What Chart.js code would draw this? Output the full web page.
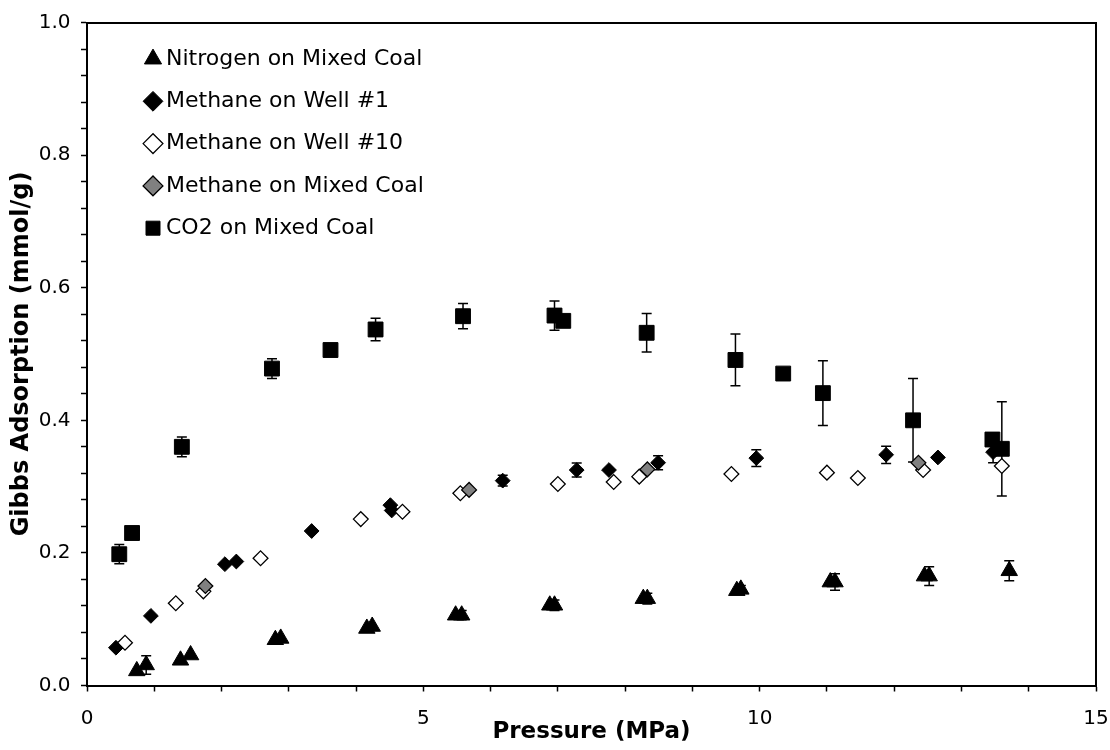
<!DOCTYPE html>
<html>
<head>
<meta charset="utf-8">
<script src="https://cdn.jsdelivr.net/npm/chart.js@4.4.1/dist/chart.umd.min.js"></script>
<style>
  html, body { margin: 0; padding: 0; background: #ffffff; }
  canvas { display: block; }
</style>
</head>
<body>
<canvas id="chart" width="1110" height="750"></canvas>
<script>
// ---------- Data ----------
const seriesNames = [
  'Nitrogen on Mixed Coal',
  'Methane on Well #1',
  'Methane on Well #10',
  'Methane on Mixed Coal',
  'CO2 on Mixed Coal'
];

// Nitrogen on Mixed Coal
const n2Pressure   = [0.74, 0.88, 1.39, 1.54, 2.80, 2.88, 4.16, 4.24, 5.48, 5.57, 6.88, 6.95, 8.27, 8.33, 9.66, 9.72, 11.05, 11.12, 12.45, 12.52, 13.71];
const n2Adsorption = [0.022, 0.031, 0.038, 0.046, 0.069, 0.071, 0.086, 0.089, 0.106, 0.106, 0.121, 0.121, 0.131, 0.131, 0.143, 0.145, 0.156, 0.156, 0.165, 0.165, 0.173];
const n2Error      = [0, 0.014, 0, 0, 0, 0, 0, 0, 0, 0.007, 0, 0.008, 0, 0.008, 0, 0.006, 0, 0.0125, 0, 0.014, 0.015];

// Methane on Well #1
const well1Pressure   = [0.43, 0.95, 2.05, 2.22, 3.34, 4.51, 4.53, 6.18, 7.28, 7.76, 8.49, 9.95, 11.88, 12.65, 13.47];
const well1Adsorption = [0.057, 0.105, 0.183, 0.187, 0.233, 0.272, 0.264, 0.309, 0.325, 0.325, 0.336, 0.343, 0.348, 0.344, 0.352];
const well1Error      = [0, 0, 0, 0, 0, 0, 0, 0.008, 0.0105, 0, 0.0105, 0.0125, 0.013, 0, 0.016];

// Methane on Well #10
const well10Pressure   = [0.565, 1.32, 1.73, 2.58, 4.07, 4.69, 5.55, 7.00, 7.83, 8.21, 9.58, 11.00, 11.46, 12.43, 13.60];
const well10Adsorption = [0.0645, 0.124, 0.142, 0.192, 0.251, 0.262, 0.290, 0.304, 0.307, 0.315, 0.319, 0.321, 0.313, 0.325, 0.331];

// Methane on Mixed Coal
const ch4MixPressure   = [1.76, 5.68, 8.33, 12.36];
const ch4MixAdsorption = [0.150, 0.295, 0.326, 0.336];

// CO2 on Mixed Coal
const co2Pressure   = [0.48, 0.67, 1.41, 2.75, 3.62, 4.29, 5.59, 6.95, 7.08, 8.32, 9.64, 10.35, 10.94, 12.28, 13.46, 13.60];
const co2Adsorption = [0.198, 0.230, 0.360, 0.478, 0.506, 0.537, 0.557, 0.558, 0.550, 0.532, 0.491, 0.4705, 0.441, 0.400, 0.371, 0.357];
const co2Error      = [0.0145, 0, 0.015, 0.015, 0, 0.017, 0.019, 0.022, 0, 0.029, 0.039, 0, 0.049, 0.063, 0, 0.071];

// Axis ranges and tick labels
const xRange = [0, 15];
const yRange = [0, 1];
const xTickLabels = ['0', '5', '10', '15'];
const yTickLabels = ['0.0', '0.2', '0.4', '0.6', '0.8', '1.0'];
const xTitle = 'Pressure (MPa)';
const yTitle = 'Gibbs Adsorption (mmol/g)';

// ---------- Helpers ----------
function toPoints(xs, ys) { return xs.map((x, i) => ({ x: x, y: ys[i] })); }

const FONT = 'DejaVu Sans';

// Error bar plugin (draws through the chart scales)
const errorBarPlugin = {
  id: 'errorBars',
  beforeDatasetsDraw(chart) {
    const ctx = chart.ctx;
    const xs = chart.scales.x, ys = chart.scales.y;
    ctx.save();
    ctx.strokeStyle = '#000000';
    ctx.lineWidth = 1.5;
    chart.data.datasets.forEach((ds) => {
      if (!ds.errorBars) return;
      ds.data.forEach((p, j) => {
        const e = ds.errorBars[j];
        if (!e) return;
        const px = xs.getPixelForValue(p.x);
        const top = ys.getPixelForValue(p.y + e);
        const bot = ys.getPixelForValue(p.y - e);
        ctx.beginPath();
        ctx.moveTo(px, top); ctx.lineTo(px, bot);
        ctx.moveTo(px - 5, top); ctx.lineTo(px + 5, top);
        ctx.moveTo(px - 5, bot); ctx.lineTo(px + 5, bot);
        ctx.stroke();
      });
    });
    ctx.restore();
  }
};

// Place the legend block inside the plot like the reference
const legendPlacePlugin = {
  id: 'legendPlace',
  afterLayout(chart) {
    const lg = chart.legend;
    if (!lg) return;
    lg.left += 43.7; lg.right += 43.7;
    lg.top += 27.7; lg.bottom += 27.7;
  }
};

const tickFont = { family: FONT, size: 20 };

const chart = new Chart(document.getElementById('chart'), {
  type: 'scatter',
  data: {
    datasets: [
      {
        label: seriesNames[0], data: toPoints(n2Pressure, n2Adsorption), errorBars: n2Error,
        pointStyle: 'triangle', pointRadius: 9.5, pointHoverRadius: 9.5,
        backgroundColor: '#000000', borderColor: '#000000', borderWidth: 1, order: 5
      },
      {
        label: seriesNames[1], data: toPoints(well1Pressure, well1Adsorption), errorBars: well1Error,
        pointStyle: 'rectRot', pointRadius: 7.4, pointHoverRadius: 7.4,
        backgroundColor: '#000000', borderColor: '#000000', borderWidth: 1, order: 4
      },
      {
        label: seriesNames[2], data: toPoints(well10Pressure, well10Adsorption),
        pointStyle: 'rectRot', pointRadius: 7.4, pointHoverRadius: 7.4,
        backgroundColor: '#ffffff', borderColor: '#000000', borderWidth: 1.3, order: 3
      },
      {
        label: seriesNames[3], data: toPoints(ch4MixPressure, ch4MixAdsorption),
        pointStyle: 'rectRot', pointRadius: 7.4, pointHoverRadius: 7.4,
        backgroundColor: '#808080', borderColor: '#000000', borderWidth: 1.3, order: 2
      },
      {
        label: seriesNames[4], data: toPoints(co2Pressure, co2Adsorption), errorBars: co2Error,
        pointStyle: 'rect', pointRadius: 10.5, pointHoverRadius: 10.5,
        backgroundColor: '#000000', borderColor: '#000000', borderWidth: 1, order: 1
      }
    ]
  },
  options: {
    responsive: false,
    animation: false,
    devicePixelRatio: 1,
    layout: { padding: { top: 22, right: 14, left: 0, bottom: 0 } },
    plugins: {
      tooltip: { enabled: false },
      legend: {
        display: true,
        position: 'chartArea',
        align: 'start',
        labels: {
          usePointStyle: true,
          boxWidth: 4,
          boxHeight: 14,
          padding: 20.3,
          color: '#000000',
          font: { family: FONT, size: 22 },
          sort: (a, b) => a.datasetIndex - b.datasetIndex
        }
      }
    },
    scales: {
      x: {
        type: 'linear', position: 'bottom',
        min: xRange[0], max: xRange[1],
        afterFit(scale) { scale.height = 64.5; scale.paddingRight = 0; scale.paddingLeft = 0; },
        border: { display: true, color: '#000000', width: 2 },
        grid: { drawOnChartArea: false, drawTicks: true, tickLength: 6, color: '#000000', tickColor: '#000000', tickWidth: 1.5 },
        ticks: {
          stepSize: 1, autoSkip: false, maxRotation: 0, padding: 15.5,
          color: '#000000', font: tickFont,
          callback: (v) => {
            const i = xTickLabels.indexOf(String(Math.round(v)));
            return (Math.abs(v - Math.round(v)) < 1e-9 && i >= 0) ? xTickLabels[i] : '';
          }
        },
        title: {
          display: true, text: xTitle, color: '#000000',
          font: { family: FONT, size: 23, weight: 'bold' },
          padding: { top: 0, bottom: 4 }
        }
      },
      y: {
        type: 'linear', position: 'left',
        min: yRange[0], max: yRange[1],
        afterFit(scale) { scale.width = 87; },
        border: { display: true, color: '#000000', width: 2 },
        grid: { drawOnChartArea: false, drawTicks: true, tickLength: 6, color: '#000000', tickColor: '#000000', tickWidth: 1.5 },
        ticks: {
          stepSize: 0.04, autoSkip: false, padding: 10.5,
          color: '#000000', font: tickFont,
          callback: (v) => {
            const s = v.toFixed(1);
            return (Math.abs(v * 5 - Math.round(v * 5)) < 1e-6 && yTickLabels.includes(s)) ? s : '';
          }
        },
        title: {
          display: true, text: yTitle, color: '#000000',
          font: { family: FONT, size: 24, weight: 'bold' },
          padding: { top: 7, bottom: 0 }
        }
      },
      xTop: {
        type: 'linear', position: 'top',
        min: xRange[0], max: xRange[1],
        afterFit(scale) { scale.height = 0; },
        border: { display: true, color: '#000000', width: 2 },
        grid: { drawOnChartArea: false, drawTicks: false },
        ticks: { display: false }
      },
      yRight: {
        type: 'linear', position: 'right',
        min: yRange[0], max: yRange[1],
        afterFit(scale) { scale.width = 0; },
        border: { display: true, color: '#000000', width: 2 },
        grid: { drawOnChartArea: false, drawTicks: false },
        ticks: { display: false }
      }
    }
  },
  plugins: [errorBarPlugin, legendPlacePlugin]
});
</script>
</body>
</html>
